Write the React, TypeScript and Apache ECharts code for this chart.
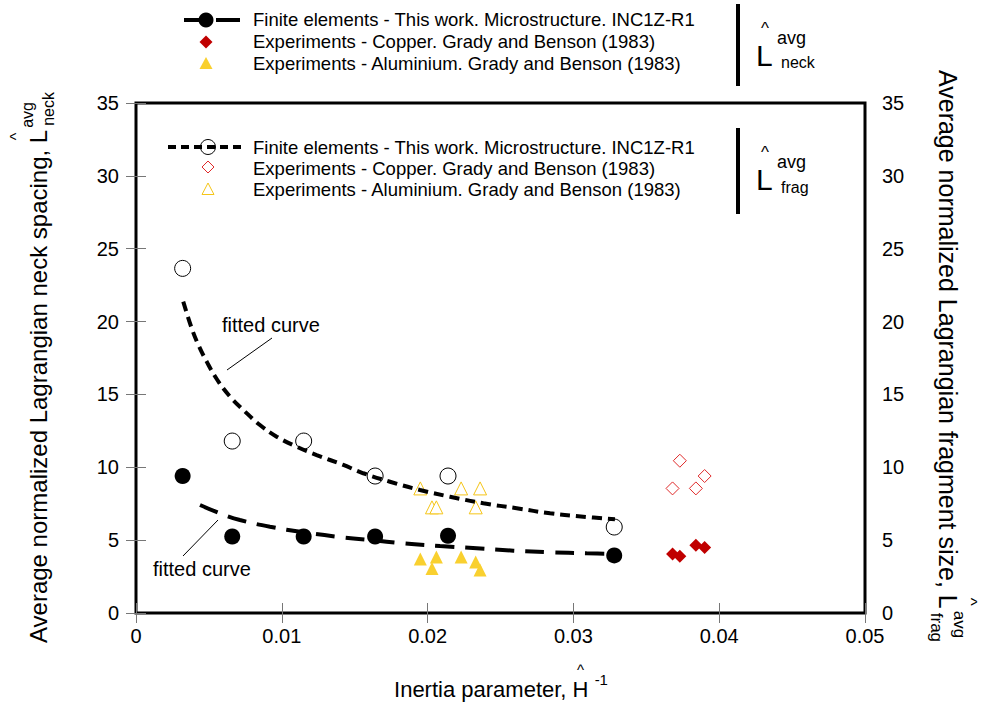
import React, { useEffect, useRef } from "react";
import * as echarts from "echarts";

const FONT = "'Liberation Sans', Arial, Helvetica, sans-serif";

// Axis ticks
const X_MIN = 0, X_MAX = 0.05, X_INT = 0.01;
const Y_MIN = 0, Y_MAX = 35, Y_INT = 5;

// Finite elements (this work), microstructure INC1Z-R1
const feX = [0.0032, 0.0066, 0.0115, 0.0164, 0.0214, 0.0328];
const feNeck = [9.4, 5.25, 5.25, 5.25, 5.3, 3.95];
const feFrag = [23.65, 11.8, 11.8, 9.4, 9.4, 5.9];

// Experiments - Copper (Grady and Benson 1983)
const cuX = [0.0368, 0.0373, 0.0384, 0.039];
const cuNeck = [4.05, 3.9, 4.65, 4.5];
const cuFrag = [8.55, 10.45, 8.55, 9.4];

// Experiments - Aluminium (Grady and Benson 1983)
const alX = [0.0195, 0.0203, 0.0206, 0.0223, 0.0233, 0.0236];
const alNeck = [3.7, 3.05, 3.85, 3.85, 3.5, 2.95];
const alFrag = [8.55, 7.25, 7.25, 8.55, 7.25, 8.55];

// Fitted curves
const fitFragX = [0.00324, 0.00382, 0.00428, 0.00485, 0.00558, 0.00645, 0.00748, 0.0085, 0.00965, 0.01102, 0.01239, 0.01422, 0.01559, 0.01742, 0.01948, 0.02154, 0.02382, 0.02611, 0.0284, 0.03068, 0.03285];
const fitFragY = [21.37, 19.54, 18.39, 17.25, 15.99, 14.85, 13.82, 12.9, 12.1, 11.41, 10.84, 10.16, 9.59, 9.01, 8.44, 7.98, 7.53, 7.19, 6.84, 6.61, 6.43];
const fitNeckX = [0.00439, 0.00576, 0.00713, 0.00919, 0.01148, 0.01376, 0.01605, 0.01834, 0.02085, 0.02337, 0.02588, 0.0284, 0.03091, 0.0332];
const fitNeckY = [7.41, 6.84, 6.38, 5.92, 5.54, 5.24, 5.01, 4.78, 4.6, 4.44, 4.28, 4.17, 4.1, 4.05];

const legendTexts = [
  "Finite elements - This work. Microstructure. INC1Z-R1",
  "Experiments - Copper. Grady and Benson (1983)",
  "Experiments - Aluminium. Grady and Benson (1983)",
];

const CU_DARK = "#C00000";
const CU_LIGHT = "#E02A2A";
const AL_FILL = "#F9D02F";
const AL_LINE = "#F5C518";

const zip = (xs: number[], ys: number[]) => xs.map((x, i) => [x, ys[i]]);

function measure(text: string, size: number): number {
  const ctx = document.createElement("canvas").getContext("2d");
  if (!ctx) return text.length * size * 0.5;
  ctx.font = `${size}px ${FONT}`;
  return ctx.measureText(text).width;
}

function txt(x: number, y: number, text: string, size: number, align = "left", valign = "middle", extra: any = {}) {
  return {
    type: "text",
    x,
    y,
    style: {
      text,
      fontSize: size,
      fontFamily: FONT,
      fill: "#000",
      align,
      verticalAlign: valign,
      textAlign: align,
      textVerticalAlign: valign,
      ...extra,
    },
  };
}

// Builds "main + L^ (sup/sub)" in a local frame starting at x=0, middle y=0
function hatTitle(main: string, letter: string, sup: string, sub: string | null, size: number) {
  const wMain = measure(main, size);
  const wL = measure(letter, size);
  const small = Math.round(size * 0.68);
  const children: any[] = [];
  children.push(txt(0, 0, main, size));
  children.push(txt(wMain, 0, letter, size));
  children.push(txt(wMain + wL / 2, -size * 0.9, "^", small, "center"));
  const sx = wMain + wL + 2;
  children.push(txt(sx, -size * 0.45, sup, small));
  let w = sx + measure(sup, small);
  if (sub) {
    children.push(txt(sx + 2, size * 0.45, sub, small));
    w = Math.max(w, sx + 2 + measure(sub, small));
  }
  return { children, width: w };
}

export default function App() {
  const ref = useRef<HTMLDivElement>(null);

  useEffect(() => {
    if (!ref.current) return;
    const chart = echarts.init(ref.current, undefined, { renderer: "svg" });

    const axisLine = { show: false };
    const axisTick = { show: true, inside: true, length: 10, lineStyle: { color: "#777", width: 1 } };
    const label = { fontSize: 20, color: "#000", fontFamily: FONT };

    // Axis titles
    const leftT = hatTitle("Average normalized Lagrangian neck spacing, ", "L", "avg", "neck", 24);
    const rightT = hatTitle("Average normalized Lagrangian fragment size, ", "L", "avg", "frag", 25);
    const xT = hatTitle("Inertia parameter, ", "H", " -1", null, 22);

    const LS = 18.5;

    const graphics: any[] = [
      // left title (reads bottom -> top)
      { type: "group", x: 38, y: 643, rotation: Math.PI / 2, children: leftT.children },
      // right title (reads top -> bottom)
      { type: "group", x: 948, y: 70, rotation: -Math.PI / 2, children: rightT.children },
      // x title
      { type: "group", x: 501 - xT.width / 2, y: 689, children: xT.children },

      // legend 1 (neck)
      { type: "line", shape: { x1: 184, y1: 20, x2: 205, y2: 20 }, style: { stroke: "#000", lineWidth: 4 } },
      { type: "line", shape: { x1: 216, y1: 20, x2: 240, y2: 20 }, style: { stroke: "#000", lineWidth: 4 } },
      { type: "circle", shape: { cx: 206, cy: 20, r: 7.5 }, style: { fill: "#000" } },
      { type: "polygon", shape: { points: [[206, 35.5], [212.5, 42], [206, 48.5], [199.5, 42]] }, style: { fill: CU_DARK } },
      { type: "polygon", shape: { points: [[206, 57], [212.5, 69], [199.5, 69]] }, style: { fill: AL_FILL } },
      txt(253, 19, legendTexts[0], LS),
      txt(253, 41, legendTexts[1], LS),
      txt(253, 63, legendTexts[2], LS),
      { type: "rect", shape: { x: 736, y: 4, width: 4, height: 82 }, style: { fill: "#000" } },
      txt(756, 55, "L", 30),
      txt(765, 28, "^", 17, "center"),
      txt(777, 38, "avg", 18),
      txt(781, 62, "neck", 16),

      // legend 2 (frag)
      { type: "circle", shape: { cx: 208, cy: 147, r: 7.5 }, style: { fill: "#fff", stroke: "#000", lineWidth: 1 } },
      { type: "line", shape: { x1: 168, y1: 147, x2: 244, y2: 147 }, style: { stroke: "#000", lineWidth: 4, lineDash: [8, 5] } },
      { type: "polygon", shape: { points: [[208, 161], [214, 167], [208, 173], [202, 167]] }, style: { fill: "#fff", stroke: CU_LIGHT, lineWidth: 1 } },
      { type: "polygon", shape: { points: [[208, 183], [214, 194.5], [202, 194.5]] }, style: { fill: "#fff", stroke: AL_LINE, lineWidth: 1 } },
      txt(253, 147, legendTexts[0], LS),
      txt(253, 168, legendTexts[1], LS),
      txt(253, 189, legendTexts[2], LS),
      { type: "rect", shape: { x: 736, y: 128, width: 4, height: 86 }, style: { fill: "#000" } },
      txt(756, 179, "L", 30),
      txt(765, 152, "^", 17, "center"),
      txt(777, 162, "avg", 18),
      txt(781, 187, "frag", 16),

      // fitted curve annotations
      txt(222, 325, "fitted curve", 20),
      { type: "line", shape: { x1: 227, y1: 370, x2: 272, y2: 338 }, style: { stroke: "#000", lineWidth: 1 } },
      txt(153, 569, "fitted curve", 20),
      { type: "line", shape: { x1: 183, y1: 556, x2: 218, y2: 520 }, style: { stroke: "#000", lineWidth: 1 } },
    ];

    chart.setOption({
      animation: false,
      backgroundColor: "#fff",
      grid: {
        left: 136, right: 125, top: 103, bottom: 94, containLabel: false, outerBoundsMode: "none",
        show: true, borderColor: "#000", borderWidth: 3, backgroundColor: "transparent",
      },
      xAxis: [
        {
          type: "value", min: X_MIN, max: X_MAX, interval: X_INT, position: "bottom",
          axisLine, axisTick, splitLine: { show: false },
          axisLabel: { ...label, margin: 13, formatter: (v: number) => (v === 0 ? "0" : String(+v.toFixed(2))) },
        },
        {
          type: "value", min: X_MIN, max: X_MAX, interval: X_INT, position: "top",
          axisLine, axisTick, splitLine: { show: false }, axisLabel: { show: false },
        },
      ],
      yAxis: [
        {
          type: "value", min: Y_MIN, max: Y_MAX, interval: Y_INT, position: "left",
          axisLine, axisTick, splitLine: { show: false }, axisLabel: { ...label, margin: 17 },
        },
        {
          type: "value", min: Y_MIN, max: Y_MAX, interval: Y_INT, position: "right",
          axisLine, axisTick, splitLine: { show: false }, axisLabel: { ...label, margin: 17 },
        },
      ],
      series: [
        {
          type: "scatter", name: "FE frag", data: zip(feX, feFrag), symbol: "circle", symbolSize: 16,
          itemStyle: { color: "#fff", borderColor: "#000", borderWidth: 1, opacity: 1 }, z: 2,
        },
        {
          type: "scatter", name: "FE neck", data: zip(feX, feNeck), symbol: "circle", symbolSize: 16,
          itemStyle: { color: "#000", opacity: 1 }, z: 2,
        },
        {
          type: "scatter", name: "Cu frag", data: zip(cuX, cuFrag), symbol: "diamond", symbolSize: 13,
          itemStyle: { color: "#fff", borderColor: CU_LIGHT, borderWidth: 1, opacity: 1 }, z: 2,
        },
        {
          type: "scatter", name: "Cu neck", data: zip(cuX, cuNeck), symbol: "diamond", symbolSize: 13,
          itemStyle: { color: CU_DARK, opacity: 1 }, z: 2,
        },
        {
          type: "scatter", name: "Al frag", data: zip(alX, alFrag), symbol: "triangle", symbolSize: 13,
          itemStyle: { color: "#fff", borderColor: AL_LINE, borderWidth: 1, opacity: 1 }, z: 2,
        },
        {
          type: "scatter", name: "Al neck", data: zip(alX, alNeck), symbol: "triangle", symbolSize: 13,
          itemStyle: { color: AL_FILL, opacity: 1 }, z: 2,
        },
        {
          type: "line", name: "fit frag", data: zip(fitFragX, fitFragY), smooth: 0.4, showSymbol: false, symbol: "none",
          lineStyle: { color: "#000", width: 4, type: [10, 6] }, z: 5,
        },
        {
          type: "line", name: "fit neck", data: zip(fitNeckX, fitNeckY), smooth: 0.4, showSymbol: false, symbol: "none",
          lineStyle: { color: "#000", width: 4, type: [19, 11] }, z: 5,
        },
      ],
      graphic: graphics,
    });

    return () => chart.dispose();
  }, []);

  return <div ref={ref} style={{ position: "fixed", left: 0, top: 0, width: 990, height: 707, background: "#fff" }} />;
}
